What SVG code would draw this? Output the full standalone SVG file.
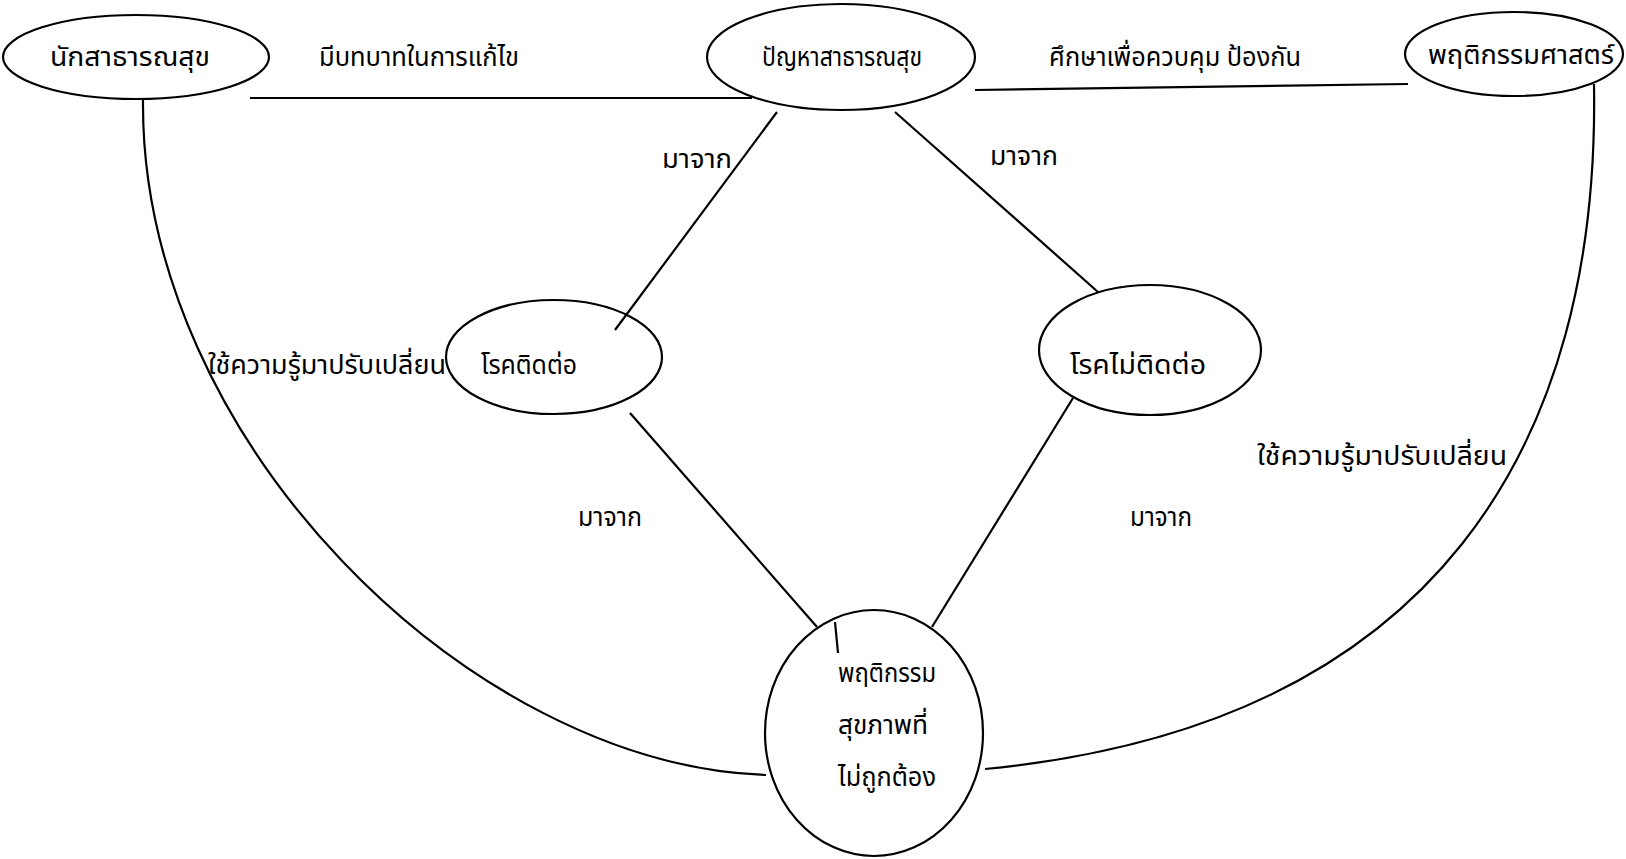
<svg xmlns="http://www.w3.org/2000/svg" width="1626" height="859" viewBox="0 0 1626 859">
<style>
.n{fill:none;stroke:#000;stroke-width:2.2}
.c{fill:none;stroke:#000;stroke-width:2.2}
text{font-family:"Noto Sans Thai","Noto Sans","DejaVu Sans",sans-serif;font-size:26px;fill:#000;text-anchor:start}
</style>
<rect width="1626" height="859" fill="#fff"/>
<g id="connectors">
<line class="c" x1="250" y1="98" x2="752" y2="98"/>
<line class="c" x1="975" y1="90" x2="1408" y2="84"/>
<path class="c" d="M143 100 C140 440 470 765 766 775"/>
<path class="c" d="M1594 84 C1600 440 1440 725 985 769"/>
<line class="c" x1="777" y1="112" x2="615" y2="330"/>
<line class="c" x1="895" y1="112" x2="1098" y2="292"/>
<line class="c" x1="630" y1="413" x2="817" y2="627"/>
<line class="c" x1="835" y1="622" x2="838" y2="653"/>
<line class="c" x1="1073" y1="398" x2="932" y2="627"/>
<text x="319" y="66" textLength="200" lengthAdjust="spacingAndGlyphs">มีบทบาทในการแก้ไข</text>
<text x="1049" y="66" textLength="252" lengthAdjust="spacingAndGlyphs">ศึกษาเพื่อควบคุม ป้องกัน</text>
<text x="662" y="168" textLength="70" lengthAdjust="spacingAndGlyphs">มาจาก</text>
<text x="990" y="165" textLength="68" lengthAdjust="spacingAndGlyphs">มาจาก</text>
<text x="578" y="526" textLength="64" lengthAdjust="spacingAndGlyphs">มาจาก</text>
<text x="1130" y="526" textLength="62" lengthAdjust="spacingAndGlyphs">มาจาก</text>
<text x="208" y="374" textLength="238" lengthAdjust="spacingAndGlyphs">ใช้ความรู้มาปรับเปลี่ยน</text>
<text x="1257" y="465" textLength="250" lengthAdjust="spacingAndGlyphs">ใช้ความรู้มาปรับเปลี่ยน</text>
</g>
<g id="node-health-worker">
<ellipse class="n" cx="136" cy="57" rx="133" ry="42"/>
<text x="50" y="66" textLength="160" lengthAdjust="spacingAndGlyphs">นักสาธารณสุข</text>
</g>
<g id="node-public-health-problem">
<ellipse class="n" cx="841" cy="57" rx="134" ry="53"/>
<text x="762" y="66" textLength="160" lengthAdjust="spacingAndGlyphs">ปัญหาสาธารณสุข</text>
</g>
<g id="node-behavioral-science">
<ellipse class="n" cx="1514" cy="54" rx="109" ry="42"/>
<text x="1428" y="64" textLength="186" lengthAdjust="spacingAndGlyphs">พฤติกรรมศาสตร์</text>
</g>
<g id="node-communicable">
<ellipse class="n" cx="554" cy="357" rx="108" ry="57"/>
<text x="481" y="374" textLength="96" lengthAdjust="spacingAndGlyphs">โรคติดต่อ</text>
</g>
<g id="node-noncommunicable">
<ellipse class="n" cx="1150" cy="350" rx="111" ry="65"/>
<text x="1070" y="374" textLength="136" lengthAdjust="spacingAndGlyphs">โรคไม่ติดต่อ</text>
</g>
<g id="node-behavior">
<ellipse class="n" cx="874" cy="733" rx="109" ry="123"/>
<text x="838" y="682" textLength="98" lengthAdjust="spacingAndGlyphs">พฤติกรรม</text>
<text x="838" y="734" textLength="90" lengthAdjust="spacingAndGlyphs">สุขภาพที่</text>
<text x="838" y="786" textLength="98" lengthAdjust="spacingAndGlyphs">ไม่ถูกต้อง</text>
</g>
</svg>
